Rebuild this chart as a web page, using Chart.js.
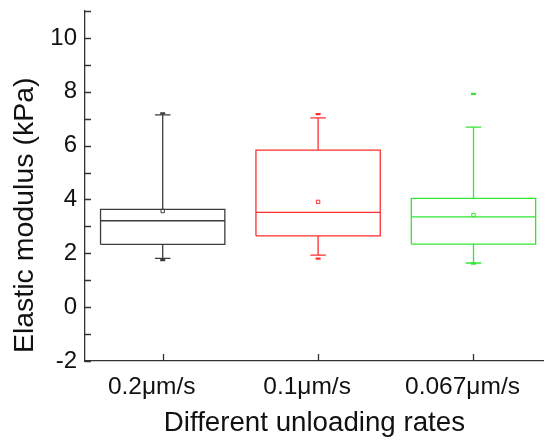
<!DOCTYPE html>
<html>
<head>
<meta charset="utf-8">
<script src="https://cdn.jsdelivr.net/npm/chart.js@4.4.0/dist/chart.umd.min.js"></script>
<style>
  html, body { margin: 0; padding: 0; background: #fff; overflow: hidden; }
  #wrap { width: 550px; height: 441px; }
</style>
</head>
<body>
<div id="wrap"><canvas id="c" width="550" height="441"></canvas></div>
<script>
// Elastic modulus (kPa) per unloading rate: box-plot statistics
const categories  = ['0.2μm/s', '0.1μm/s', '0.067μm/s'];
const q1          = [2.33, 2.65, 2.34];
const median      = [3.21, 3.52, 3.35];
const q3          = [3.63, 5.83, 4.04];
const whiskerLow  = [1.81, 1.93, 1.64];
const whiskerHigh = [7.14, 7.03, 6.69];
const mean        = [3.57, 3.91, 3.42];
const minVal      = [1.75, 1.80, 1.62];
const maxVal      = [7.20, 7.17, 7.92];
const colors      = ['#3c3c3c', '#ff2e2e', '#2fe82f'];

const yMin = -2, yMax = 11;
const boxHalf = 0.4, capHalf = 0.05;
const GAP = { x: null, y: null };

// One polyline per group: box outline, median, whiskers and caps (GAP breaks the line)
function boxOutline(i) {
  const x = i + 1;
  const L = x - boxHalf, R = x + boxHalf;
  return [
    {x: L, y: q1[i]}, {x: R, y: q1[i]}, {x: R, y: q3[i]}, {x: L, y: q3[i]}, {x: L, y: q1[i]}, GAP,
    {x: L, y: median[i]}, {x: R, y: median[i]}, GAP,
    {x: x, y: q3[i]}, {x: x, y: whiskerHigh[i]}, GAP,
    {x: x, y: q1[i]}, {x: x, y: whiskerLow[i]}, GAP,
    {x: x - capHalf, y: whiskerHigh[i]}, {x: x + capHalf, y: whiskerHigh[i]}, GAP,
    {x: x - capHalf, y: whiskerLow[i]}, {x: x + capHalf, y: whiskerLow[i]}
  ].map(p => ({ ...p }));
}

const datasets = [];
categories.forEach((c, i) => {
  datasets.push({
    label: c,
    data: boxOutline(i),
    showLine: true,
    spanGaps: false,
    borderColor: colors[i],
    borderWidth: 1.3,
    pointRadius: 0,
    fill: false
  });
  datasets.push({
    label: c + ' mean',
    data: [{x: i + 1, y: mean[i]}],
    pointStyle: 'rect',
    pointRadius: 2.4,
    borderWidth: 1,
    borderColor: colors[i],
    backgroundColor: '#ffffff'
  });
  datasets.push({
    label: c + ' min/max',
    data: [{x: i + 1, y: minVal[i]}, {x: i + 1, y: maxVal[i]}],
    pointStyle: 'line',
    pointRadius: 2.5,
    borderWidth: 2.2,
    borderColor: colors[i],
    backgroundColor: colors[i]
  });
});

// Short tick marks drawn inside the plot area, along both axes
const inwardTicks = {
  id: 'inwardTicks',
  afterDraw(chart) {
    const {ctx, chartArea, scales: {x, y}} = chart;
    ctx.save();
    ctx.strokeStyle = '#333';
    ctx.lineWidth = 1.3;
    ctx.beginPath();
    for (let v = yMin; v <= yMax; v++) {
      const py = Math.round(y.getPixelForValue(v)) + 0.5;
      ctx.moveTo(chartArea.left, py);
      ctx.lineTo(chartArea.left + 6, py);
    }
    categories.forEach((c, i) => {
      const px = Math.round(x.getPixelForValue(i + 1)) + 0.5;
      ctx.moveTo(px, chartArea.bottom);
      ctx.lineTo(px, chartArea.bottom - 7);
    });
    ctx.stroke();
    ctx.restore();
  }
};

const font = 'Liberation Sans, Arial, sans-serif';

new Chart(document.getElementById('c'), {
  type: 'scatter',
  data: { datasets },
  plugins: [inwardTicks],
  options: {
    responsive: false,
    animation: false,
    events: [],
    layout: { padding: { top: 11, right: 0, bottom: 0, left: 0 } },
    plugins: { legend: { display: false }, tooltip: { enabled: false } },
    scales: {
      x: {
        type: 'linear',
        min: 0.5,
        max: 0.5 + 465 / 157.5,
        grid: { display: false, drawTicks: false },
        border: { display: true, color: '#333', width: 1.3 },
        afterBuildTicks: (scale) => {
          scale.ticks = categories.map((c, i) => ({ value: i + 1 }));
        },
        afterFit: (scale) => {
          scale.height = 80;
          scale.paddingLeft = 0;
          scale.paddingRight = 0;
        },
        ticks: {
          autoSkip: false,
          maxRotation: 0,
          padding: 12,
          labelOffset: -11,
          color: '#111',
          font: { family: font, size: 24.5 },
          callback: (v) => categories[Math.round(v) - 1] ?? ''
        },
        title: {
          display: true,
          text: 'Different unloading rates',
          color: '#111',
          font: { family: font, size: 27.7 },
          padding: { top: 0, bottom: 1 }
        }
      },
      y: {
        type: 'linear',
        min: yMin,
        max: yMax,
        grid: { display: false, drawTicks: false },
        border: { display: true, color: '#333', width: 1.3 },
        afterFit: (scale) => {
          scale.width = 85;
          scale.paddingTop = 0;
          scale.paddingBottom = 0;
        },
        ticks: {
          stepSize: 1,
          autoSkip: false,
          padding: 8,
          color: '#111',
          font: { family: font, size: 24 },
          callback: (v) => (v % 2 === 0 ? String(v) : '')
        },
        title: {
          display: true,
          align: 'start',
          text: ' Elastic modulus (kPa)',
          color: '#111',
          font: { family: font, size: 28.5 },
          padding: { top: 8, bottom: 0 }
        }
      }
    }
  }
});
</script>
</body>
</html>
